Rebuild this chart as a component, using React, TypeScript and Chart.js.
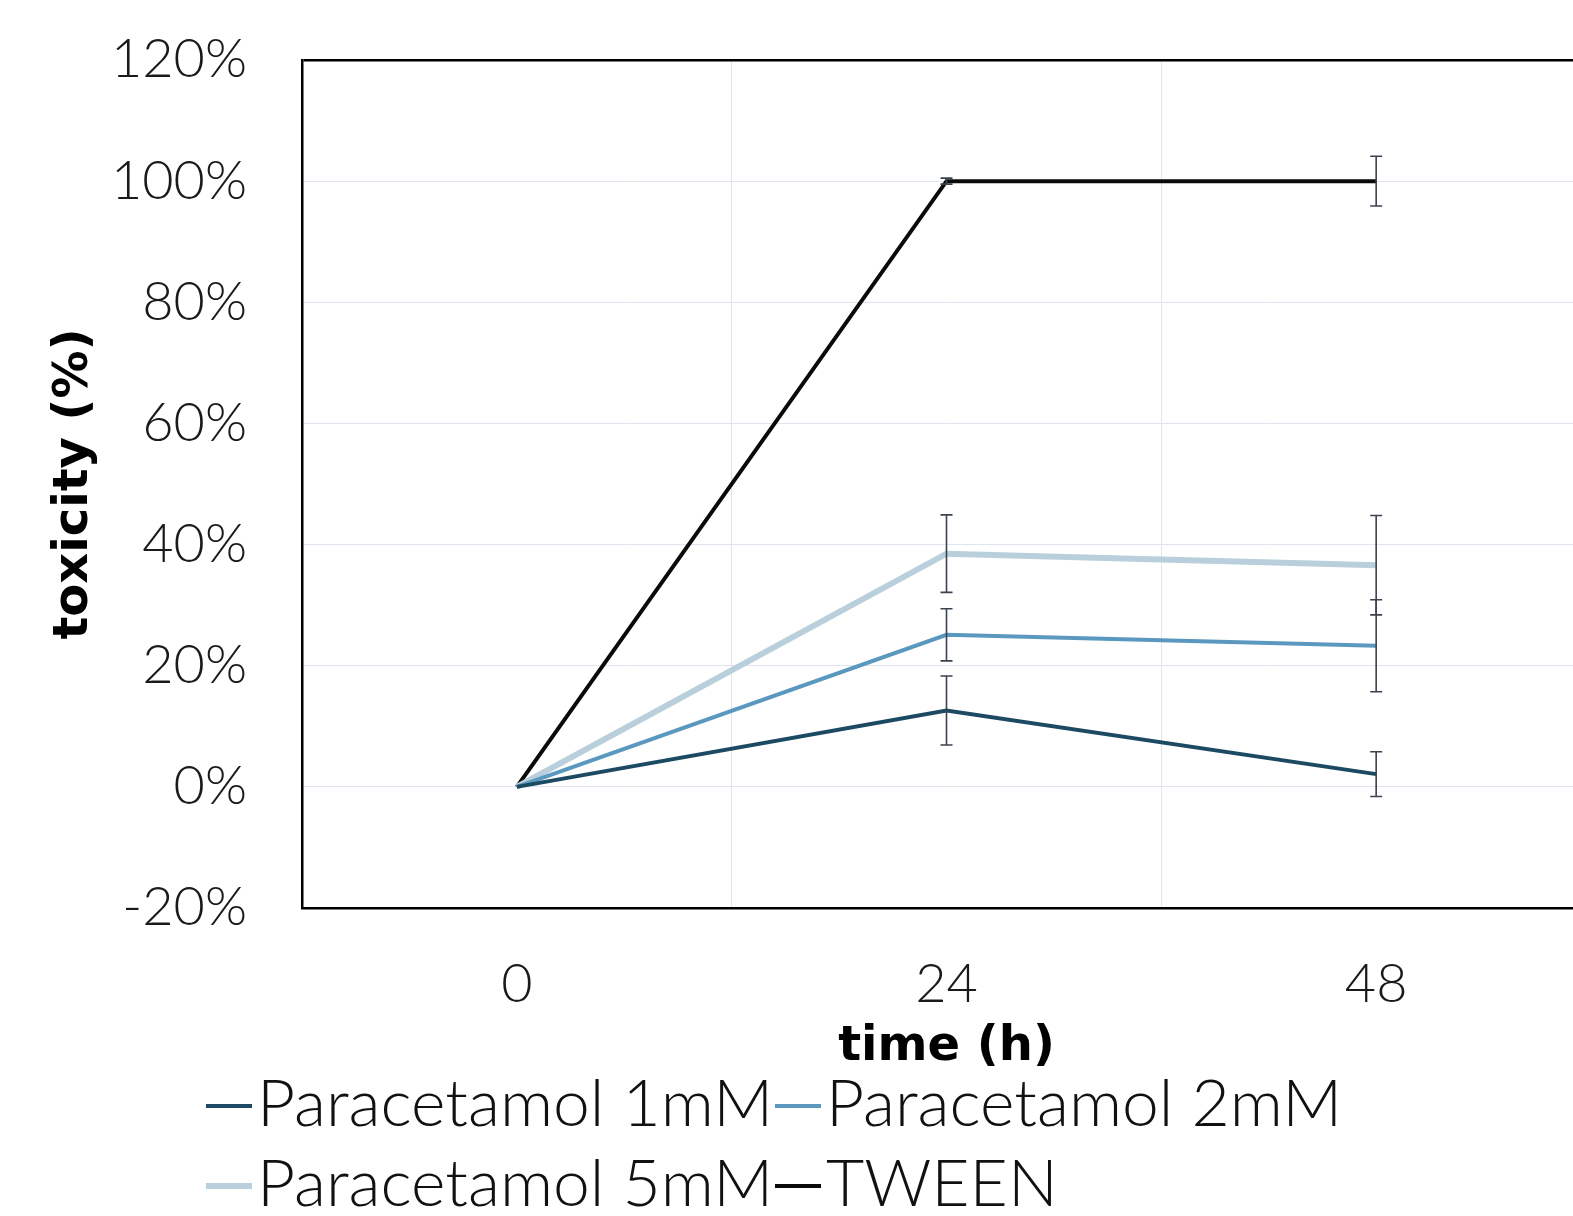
import React, { useEffect, useRef } from "react";
import { Chart, registerables } from "chart.js";

Chart.register(...registerables);

const timeLabels = ["0", "24", "48"];
const seriesNames = ["Paracetamol 1mM", "Paracetamol 2mM", "Paracetamol 5mM", "TWEEN"];
const para1mM = [0, 12.6, 2.1];
const para1mMErr = [0, 5.7, 3.7];
const para2mM = [0, 25.1, 23.3];
const para2mMErr = [0, 4.3, 7.6];
const para5mM = [0, 38.5, 36.6];
const para5mMErr = [0, 6.4, 8.2];
const tween = [0, 100, 100];
const tweenErr = [0, 0.5, 4.1];
const seriesColors = ["#1d4a63", "#5b98bf", "#b9cfdb", "#0a0a0a"];
const seriesWidths = [4, 4, 6, 4];
const yMin = -20;
const yMax = 120;
const yStep = 20;

const seriesValues = [para1mM, para2mM, para5mM, tween];
const seriesErrors = [para1mMErr, para2mMErr, para5mMErr, tweenErr];

const errorBarPlugin = {
  id: "errorBars",
  afterDatasetsDraw(chart: any) {
    const { ctx } = chart;
    const xs = chart.scales.x;
    const ys = chart.scales.y;
    ctx.save();
    ctx.strokeStyle = "#3b4250";
    ctx.lineWidth = 1.6;
    chart.data.datasets.forEach((ds: any) => {
      const errs: number[] = ds.errors || [];
      ds.data.forEach((v: number, i: number) => {
        const e = errs[i];
        if (!e) return;
        const px = xs.getPixelForValue(i);
        const top = ys.getPixelForValue(v + e);
        const bot = ys.getPixelForValue(v - e);
        ctx.beginPath();
        ctx.moveTo(px, top);
        ctx.lineTo(px, bot);
        ctx.moveTo(px - 6, top);
        ctx.lineTo(px + 6, top);
        ctx.moveTo(px - 6, bot);
        ctx.lineTo(px + 6, bot);
        ctx.stroke();
      });
    });
    ctx.restore();
  },
};

export default function App() {
  const ref = useRef<HTMLCanvasElement | null>(null);

  useEffect(() => {
    if (!ref.current) return;
    const chart = new Chart(ref.current, {
      type: "line",
      data: {
        labels: timeLabels,
        datasets: seriesNames.map((name, i) => ({
          label: name,
          data: seriesValues[i],
          errors: seriesErrors[i],
          borderColor: seriesColors[i],
          backgroundColor: seriesColors[i],
          borderWidth: seriesWidths[i],
          pointRadius: 0,
          tension: 0,
          fill: false,
        })) as any,
      },
      options: {
        animation: false,
        responsive: false,
        devicePixelRatio: 1,
        layout: { padding: { top: 60, left: 0, right: 0, bottom: 0 } },
        plugins: {
          legend: { display: false },
          tooltip: { enabled: false },
        },
        scales: {
          x: {
            type: "category",
            offset: true,
            grid: { offset: true, color: "#dfe5ee", lineWidth: 1, drawTicks: false },
            border: { display: true, color: "#000", width: 2.5 },
            ticks: {
              padding: 44,
              color: "#1a1a1a",
              font: { family: "Lato, 'DejaVu Sans', sans-serif", size: 54, weight: "300" as any },
            },
            title: {
              display: true,
              text: "time (h)",
              color: "#000",
              font: { family: "'DejaVu Sans', sans-serif", size: 48, weight: "bold" },
              padding: { top: 0, bottom: 140 },
            },
            afterFit(scale: any) {
              scale.height = 308;
              scale.paddingLeft = 0;
              scale.paddingRight = 0;
            },
          },
          y: {
            min: yMin,
            max: yMax,
            ticks: {
              stepSize: yStep,
              padding: 55,
              color: "#1a1a1a",
              font: { family: "Lato, 'DejaVu Sans', sans-serif", size: 54, weight: "300" as any },
              callback: (v: any) => `${v}%`,
            },
            grid: {
              drawTicks: false,
              color: (c: any) => (c.tick && c.tick.value === yMax ? "#000" : "#dfe5ee"),
              lineWidth: (c: any) => (c.tick && c.tick.value === yMax ? 2.5 : 1),
            },
            border: { display: true, color: "#000", width: 2.5 },
            title: {
              display: true,
              text: "toxicity (%)",
              color: "#000",
              font: { family: "'DejaVu Sans', sans-serif", size: 48, weight: "bold" },
              padding: { top: 46, bottom: 0 },
            },
            afterFit(scale: any) {
              scale.width = 302;
              scale.paddingTop = 0;
              scale.paddingBottom = 0;
            },
          },
        },
      } as any,
      plugins: [errorBarPlugin],
    });
    return () => chart.destroy();
  }, []);

  const legendFont: React.CSSProperties = {
    fontFamily: "Lato, 'DejaVu Sans', sans-serif",
    fontWeight: 300,
    fontSize: 66,
    color: "#111",
    whiteSpace: "nowrap",
  };

  const item = (idx: number, left: number, top: number) => (
    <div
      key={idx}
      style={{
        position: "absolute",
        left,
        top,
        height: 80,
        display: "flex",
        alignItems: "center",
        ...legendFont,
      }}
    >
      <span
        style={{
          display: "inline-block",
          width: 46,
          height: seriesWidths[idx],
          background: seriesColors[idx],
          marginTop: 12,
          marginRight: 5,
        }}
      />
      <span>{seriesNames[idx]}</span>
    </div>
  );

  return (
    <div
      style={{
        position: "fixed",
        left: 0,
        top: 0,
        width: 1573,
        height: 1216,
        overflow: "hidden",
        background: "#fff",
      }}
    >
      <canvas ref={ref} width={1591} height={1216} style={{ position: "absolute", left: 0, top: 0 }} />
      {item(0, 206, 1060)}
      {item(1, 775, 1060)}
      {item(2, 206, 1140)}
      {item(3, 775, 1140)}
    </div>
  );
}
